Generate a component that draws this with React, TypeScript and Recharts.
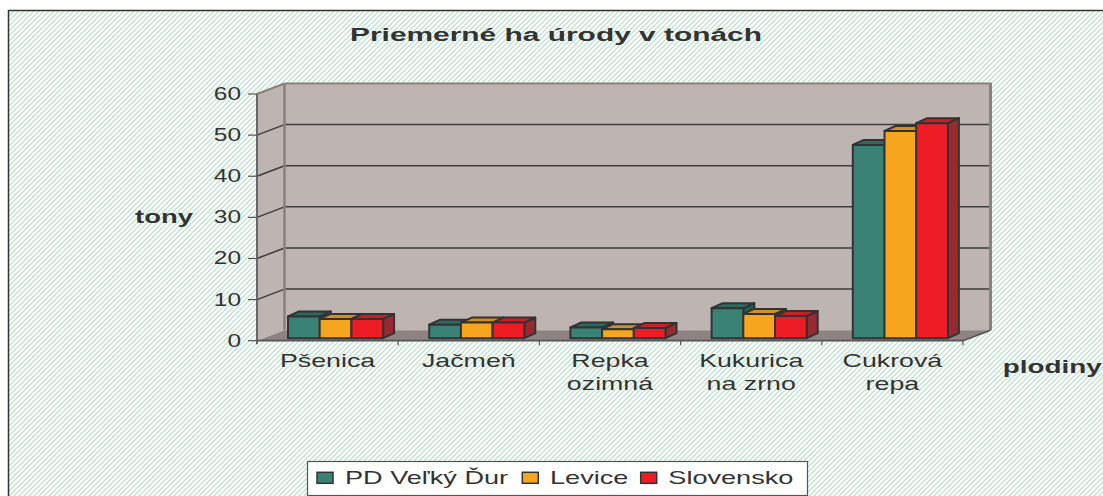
import React from 'react';
import { BarChart, Bar, XAxis, YAxis, Customized } from 'recharts';

const categories = ['Pšenica', 'Jačmeň', 'Repka\nozimná', 'Kukurica\nna zrno', 'Cukrová\nrepa'];
const pdVelkyDur = [5.3, 3.3, 2.6, 7.3, 47.0];
const levice = [4.7, 3.8, 2.2, 5.9, 50.4];
const slovensko = [4.7, 3.8, 2.5, 5.4, 52.3];
const seriesNames = ['PD Veľký Ďur', 'Levice', 'Slovensko'];
const yTicks = [0, 10, 20, 30, 40, 50, 60];
const title = 'Priemerné ha úrody v tonách';
const yTitle = 'tony';
const xTitle = 'plodiny';

const data = categories.map((name, i) => ({
  name,
  pd: pdVelkyDur[i],
  lv: levice[i],
  sk: slovensko[i],
}));

const W = 1103;
const H = 496;
const FONT = 'Liberation Sans, Arial, Helvetica, sans-serif';
// front plane of plot
const L = 257;
const R = 963;
const T = 94;
const B = 340.7;
const WX = 27.5; // back wall offset
const WY = -10.5;
const YMAX = 60;
const yOf = (v: number) => B - (v / YMAX) * (B - T);

const COLORS = [
  { front: '#3A8276', top: '#2D6B61', side: '#255A52' },
  { front: '#F5A61E', top: '#D1901F', side: '#B57A1A' },
  { front: '#EE1C25', top: '#C91F27', side: '#962A2F' },
];

const DX = 8;
const DY = -2.5;
const DD = 11;
const DH = 5;

const makeShape = (c: { front: string; top: string; side: string }) => (props: any) => {
  const { x, y, width, height } = props;
  if (height == null || width == null) return <g />;
  const X = x + DX;
  const Y = y + DY;
  const w = width;
  const h = height;
  const st = { stroke: '#333', strokeWidth: 2, strokeLinejoin: 'round' as const };
  return (
    <g>
      <polygon points={`${X + w},${Y} ${X + w + DD},${Y - DH} ${X + w + DD},${Y + h - DH} ${X + w},${Y + h}`} fill={c.side} {...st} />
      <polygon points={`${X},${Y} ${X + DD},${Y - DH} ${X + w + DD},${Y - DH} ${X + w},${Y}`} fill={c.top} {...st} />
      <rect x={X} y={Y} width={w} height={h} fill={c.front} {...st} />
    </g>
  );
};

const Walls = () => {
  const bw = { x1: L + WX, x2: R + WX, yT: T + WY, yB: B + WY };
  const band = (R - L) / categories.length;
  return (
    <g>
      <defs>
        <pattern id="hatch" patternUnits="userSpaceOnUse" width="5" height="5">
          <rect x="0" y="0" width="5" height="5" fill="#ffffff" />
          <path d="M-1,1 L1,-1 M0,5 L5,0 M4,6 L6,4" stroke="#bfe3cf" strokeWidth="1.3" />
        </pattern>
      </defs>
      <rect x={8.5} y={10.5} width={W} height={H} fill="url(#hatch)" stroke="#333" strokeWidth={1.5} />
      {/* back wall */}
      <rect x={bw.x1} y={bw.yT} width={bw.x2 - bw.x1} height={bw.yB - bw.yT} fill="#BEB5B2" />
      {/* left wall */}
      <polygon points={`${L},${T} ${bw.x1},${bw.yT} ${bw.x1},${bw.yB} ${L},${B}`} fill="#BEB5B2" />
      {/* floor */}
      <polygon points={`${L},${B} ${bw.x1},${bw.yB} ${bw.x2},${bw.yB} ${R},${B}`} fill="#8E8380" />
      {/* gridlines */}
      {yTicks.filter((v) => v > 0 && v < YMAX).map((v) => (
        <g key={v}>
          <line x1={bw.x1} x2={bw.x2} y1={yOf(v) + WY} y2={yOf(v) + WY} stroke="#3d3d3d" strokeWidth={1.5} />
          <line x1={L} x2={bw.x1} y1={yOf(v)} y2={yOf(v) + WY} stroke="#3d3d3d" strokeWidth={1.5} />
        </g>
      ))}
      {/* wall edges */}
      <line x1={L} x2={bw.x1} y1={T} y2={bw.yT} stroke="#8A807D" strokeWidth={2} />
      <line x1={bw.x1} x2={bw.x2 + 1.5} y1={bw.yT} y2={bw.yT} stroke="#8A807D" strokeWidth={2} />
      <line x1={bw.x1} x2={bw.x1} y1={bw.yT} y2={bw.yB} stroke="#8A807D" strokeWidth={2.5} />
      <line x1={bw.x2} x2={bw.x2} y1={bw.yT} y2={bw.yB} stroke="#8A807D" strokeWidth={3} />
      {/* front axes */}
      <line x1={R} x2={bw.x2} y1={B} y2={bw.yB} stroke="#555" strokeWidth={1.5} />
      <line x1={L} x2={R} y1={B} y2={B} stroke="#555" strokeWidth={1.8} />
      <line x1={L} x2={L} y1={T} y2={B + 3.5} stroke="#666" strokeWidth={2} />
      {categories.map((_, i) => (
        <line key={i} x1={L + band * (i + 1)} x2={L + band * (i + 1)} y1={B} y2={B + 4.5} stroke="#555" strokeWidth={1.2} />
      ))}
    </g>
  );
};

const XTick = (props: any) => {
  const { x, y, payload } = props;
  const lines = String(payload.value).split('\n');
  return (
    <g>
      {lines.map((ln, i) => (
        <text
          key={i}
          transform={`translate(${x},${y + 26 + i * 23.3}) scale(1.53,1)`}
          textAnchor="middle"
          fontFamily={FONT}
          fontSize={17.5}
          fill="#333"
        >
          {ln}
        </text>
      ))}
    </g>
  );
};

const YTick = (props: any) => {
  const { x, y, payload } = props;
  return (
    <text transform={`translate(${x},${y + 6}) scale(1.4,1)`} textAnchor="end" fontFamily={FONT} fontSize={17.5} fill="#333">
      {payload.value}
    </text>
  );
};

const Overlay = () => {
  const legendX = [317, 522.3, 640.7];
  const legendTextX = [345, 550, 668.3];
  return (
    <g fontFamily={FONT} fill="#333">
      <text x={350} y={41} textLength={412} lengthAdjust="spacingAndGlyphs" fontSize={17.5} fontWeight="bold" fill="#333">
        {title}
      </text>
      <text x={135} y={223.3} textLength={58} lengthAdjust="spacingAndGlyphs" fontSize={17.5} fontWeight="bold" fill="#333">
        {yTitle}
      </text>
      <text x={1002.7} y={373.3} textLength={99} lengthAdjust="spacingAndGlyphs" fontSize={17.5} fontWeight="bold" fill="#333">
        {xTitle}
      </text>
      <rect x={307.5} y={461.5} width={500} height={34} fill="#fff" stroke="#555" strokeWidth={1.2} />
      {seriesNames.map((n, i) => (
        <g key={n}>
          <rect x={legendX[i]} y={472.3} width={16} height={11} fill={COLORS[i].front} stroke="#333" strokeWidth={1.5} />
          <text transform={`translate(${legendTextX[i]},${484}) scale(1.55,1)`} fontSize={17.5} fill="#333">
            {n}
          </text>
        </g>
      ))}
    </g>
  );
};

export default function App() {
  return (
    <div style={{ position: 'absolute', left: 0, top: 0, width: W, height: H, background: '#fff' }}>
      <BarChart
        width={W}
        height={H}
        data={data}
        margin={{ top: T, right: W - R, left: 0, bottom: 0 }}
        barGap={0}
        barSize={31.7}
      >
        <Customized component={Walls} />
        <XAxis
          dataKey="name"
          height={H - B}
          axisLine={false}
          tickLine={false}
          tickSize={0}
          tickMargin={0}
          interval={0}
          tick={<XTick />}
        />
        <YAxis
          width={L}
          domain={[0, YMAX]}
          ticks={yTicks}
          axisLine={false}
          tickLine={{ stroke: '#555', strokeWidth: 1.2 }}
          tickSize={9}
          tickMargin={7}
          interval={0}
          tick={<YTick />}
        />
        <Bar dataKey="pd" name={seriesNames[0]} fill={COLORS[0].front} shape={makeShape(COLORS[0])} isAnimationActive={false} />
        <Bar dataKey="lv" name={seriesNames[1]} fill={COLORS[1].front} shape={makeShape(COLORS[1])} isAnimationActive={false} />
        <Bar dataKey="sk" name={seriesNames[2]} fill={COLORS[2].front} shape={makeShape(COLORS[2])} isAnimationActive={false} />
        <Customized component={Overlay} />
      </BarChart>
    </div>
  );
}
